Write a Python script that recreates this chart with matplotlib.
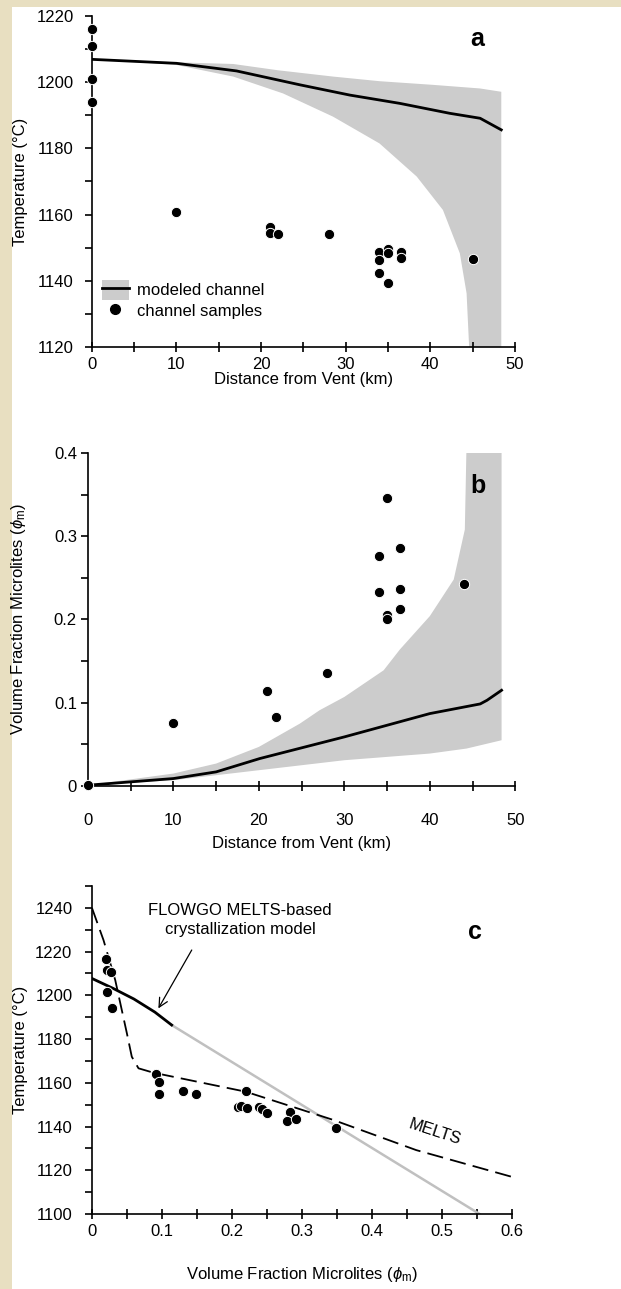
import numpy as np
import matplotlib
matplotlib.use('Agg')
import matplotlib.pyplot as plt
from matplotlib.patches import Patch
from matplotlib.lines import Line2D

plt.rcParams['font.family'] = ['Liberation Sans', 'DejaVu Sans']
plt.rcParams['mathtext.fontset'] = 'custom'
plt.rcParams['mathtext.rm'] = 'Liberation Sans'
plt.rcParams['mathtext.it'] = 'Liberation Sans:italic'

# ---- panel a: temperature vs distance ----
a_dist = [0, 0, 0, 0, 10, 21, 21, 22, 28, 34, 34, 34, 35, 35, 35, 36.5, 36.5, 45]
a_temp = [1216, 1211, 1201, 1194, 1160.7, 1156.4, 1154.5, 1154, 1154,
          1148.6, 1146.4, 1142.4, 1149.5, 1148.3, 1139.4, 1148.8, 1146.8, 1146.5]

a_line_x = [0, 10, 17.1, 24.6, 30.5, 36.4, 42.3, 45.9, 48.4]
a_line_y = [1206.9, 1205.7, 1203.4, 1199.2, 1196.1, 1193.6, 1190.6, 1189.1, 1185.6]

a_upper_x = [0, 10, 16.7, 22, 28.5, 34, 40.3, 45.9, 48.4]
a_upper_y = [1207, 1206, 1205.5, 1203.6, 1201.7, 1200.3, 1199.2, 1198.1, 1197.1]
a_lower_x = [0, 10, 16.7, 22.6, 28.5, 34, 38.4, 41.5, 43.5, 44.3, 44.6]
a_lower_y = [1207, 1205.2, 1201.7, 1196.6, 1189.6, 1181.5, 1171.5, 1161.4, 1148.3, 1136.2, 1120]

# ---- panel b: microlite fraction vs distance ----
b_dist = [0, 10, 21, 22, 28, 34, 34, 35, 35, 35, 36.5, 36.5, 36.5, 44]
b_phi = [0.001, 0.076, 0.1146, 0.0834, 0.136, 0.276, 0.2325, 0.346, 0.2056, 0.2004,
         0.286, 0.237, 0.213, 0.2425]

b_line_x = [0, 10, 15, 20.1, 30, 40, 45.9, 46.7, 48.4]
b_line_y = [0.001, 0.009, 0.017, 0.033, 0.059, 0.087, 0.0986, 0.103, 0.115]

b_upper_x = [0, 10, 15, 20, 24.8, 27.1, 30, 34.6, 36.5, 40, 42.8, 44.1, 44.3, 48.4]
b_upper_y = [0.001, 0.015, 0.027, 0.047, 0.075, 0.091, 0.107, 0.139, 0.164, 0.204,
             0.248, 0.308, 0.41, 0.41]
b_lower_x = [0, 10, 20, 30, 40, 44.3, 48.4]
b_lower_y = [0.001, 0.007, 0.019, 0.031, 0.039, 0.045, 0.055]

# ---- panel c: temperature vs microlite fraction ----
c_phi = [0.0195, 0.022, 0.0276, 0.022, 0.029, 0.091, 0.0965, 0.0956, 0.130, 0.149,
         0.2197, 0.2087, 0.2125, 0.221, 0.239, 0.243, 0.2496, 0.283, 0.279, 0.291, 0.3495]
c_temp = [1216.4, 1211.5, 1210.8, 1201.5, 1194.2, 1163.8, 1160.5, 1154.7, 1156.4, 1154.7,
          1156.4, 1148.8, 1149.5, 1148.3, 1149, 1147.8, 1146.3, 1146.8, 1142.7, 1143.6, 1139.5]

flowgo_x = [0, 0.03, 0.06, 0.09, 0.114]
flowgo_y = [1207.7, 1203.2, 1198.3, 1192.3, 1186.4]
flowgo_ext_x = [0.114, 0.554]
flowgo_ext_y = [1186.4, 1100]

melts_x = [0, 0.0166, 0.0333, 0.05, 0.057, 0.0666, 0.088, 0.22, 0.345, 0.4636, 0.6]
melts_y = [1240, 1225.2, 1207, 1182.6, 1171.9, 1166.6, 1164.6, 1155.9, 1143, 1129.2, 1117]

BAND = '#cccccc'
FS_TICK = 12
FS_LAB = 12

fig = plt.figure(figsize=(6.21, 12.89), dpi=100)
fig.patch.set_facecolor('#e8dfc1')
fig.add_artist(plt.Rectangle((12 / 621, 0), 1, 1 - 7 / 1289, transform=fig.transFigure,
                             facecolor='white', edgecolor='none', zorder=0))


def style_axes(ax, xpad, ypad):
    for s in ['top', 'right']:
        ax.spines[s].set_visible(False)
    ax.spines['left'].set_linewidth(1.2)
    ax.spines['bottom'].set_linewidth(1.2)
    ax.set_facecolor('none')
    ax.tick_params(axis='x', which='both', direction='inout', length=7, width=1.2,
                   labelsize=FS_TICK, pad=xpad)
    ax.tick_params(axis='y', which='both', direction='out', length=5, width=1.2,
                   labelsize=FS_TICK, pad=ypad)


def dots(ax, x, y):
    ax.scatter(x, y, s=55, c='black', edgecolors='white', linewidths=0.7, zorder=5,
               clip_on=False)


# panel a
ax1 = fig.add_axes([0.148, 0.7308, 0.681, 0.2568])
ax1.fill(list(a_upper_x) + [48.4] + list(a_lower_x[::-1]),
         list(a_upper_y) + [1120] + list(a_lower_y[::-1]), color=BAND, lw=0, zorder=1)
ax1.plot(a_line_x, a_line_y, color='black', lw=2, zorder=3)
dots(ax1, a_dist, a_temp)
ax1.set_xlim(0, 50)
ax1.set_ylim(1120, 1220)
ax1.set_xticks(np.arange(0, 51, 10))
ax1.set_xticks(np.arange(0, 51, 5), minor=True)
ax1.set_yticks(np.arange(1120, 1221, 20))
ax1.set_yticks(np.arange(1120, 1221, 10), minor=True)
style_axes(ax1, 4, 8)
ax1.set_xlabel('Distance from Vent (km)', fontsize=FS_LAB)
ax1.xaxis.set_label_coords(0.5, -0.075)
ax1.set_ylabel('Temperature (°C)', fontsize=FS_LAB)
ax1.yaxis.set_label_coords(-0.151, 0.5)
ax1.text(0.912, 0.93, 'a', transform=ax1.transAxes, fontsize=18, fontweight='bold',
         ha='center', va='center')
h_band = (Patch(facecolor=BAND, edgecolor='none'), Line2D([], [], color='black', lw=2))
h_dot = Line2D([], [], marker='o', color='black', lw=0, markersize=7)
ax1.legend([h_band, h_dot], ['modeled channel', 'channel samples'], loc='lower left',
           bbox_to_anchor=(0.0, 0.05), frameon=False, fontsize=FS_LAB, handlelength=1.6,
           handleheight=1.4, handletextpad=0.5, labelspacing=0.1, borderaxespad=0.2)

# panel b
ax2 = fig.add_axes([0.1417, 0.3902, 0.688, 0.2584])
ax2.fill(list(b_upper_x) + list(b_lower_x[::-1]),
         list(b_upper_y) + list(b_lower_y[::-1]), color=BAND, lw=0, zorder=1)
ax2.plot(b_line_x, b_line_y, color='black', lw=2, zorder=3)
dots(ax2, b_dist, b_phi)
ax2.set_xlim(0, 50)
ax2.set_ylim(0, 0.4)
ax2.set_xticks(np.arange(0, 51, 10))
ax2.set_xticks(np.arange(0, 51, 5), minor=True)
ax2.set_yticks([0, 0.1, 0.2, 0.3, 0.4])
ax2.set_yticklabels(['0', '0.1', '0.2', '0.3', '0.4'])
ax2.set_yticks(np.arange(0, 0.41, 0.05), minor=True)
style_axes(ax2, 16, 3)
ax2.set_xlabel('Distance from Vent (km)', fontsize=FS_LAB)
ax2.xaxis.set_label_coords(0.5, -0.15)
ax2.set_ylabel('Volume Fraction Microlites ($\\phi_\\mathrm{m}$)', fontsize=FS_LAB)
ax2.yaxis.set_label_coords(-0.140, 0.5)
ax2.text(0.912, 0.90, 'b', transform=ax2.transAxes, fontsize=18, fontweight='bold',
         ha='center', va='center')

# panel c
ax3 = fig.add_axes([0.148, 0.0582, 0.676, 0.2545])
ax3.plot(flowgo_ext_x, flowgo_ext_y, color='#c0c0c0', lw=1.8, zorder=2)
ax3.plot(flowgo_x, flowgo_y, color='black', lw=2, zorder=3)
ax3.plot(melts_x, melts_y, color='black', lw=1.3, dashes=(9, 4), zorder=3)
dots(ax3, c_phi, c_temp)
ax3.set_xlim(0, 0.6)
ax3.set_ylim(1100, 1250)
ax3.set_xticks(np.arange(0, 0.61, 0.1))
ax3.set_xticklabels(['0', '0.1', '0.2', '0.3', '0.4', '0.5', '0.6'])
ax3.set_xticks(np.arange(0, 0.61, 0.05), minor=True)
ax3.set_yticks(np.arange(1100, 1241, 20))
ax3.set_yticks(np.arange(1100, 1251, 10), minor=True)
style_axes(ax3, 4, 9)
ax3.set_xlabel('Volume Fraction Microlites ($\\phi_\\mathrm{m}$)', fontsize=FS_LAB)
ax3.xaxis.set_label_coords(0.5, -0.155)
ax3.set_ylabel('Temperature (°C)', fontsize=FS_LAB)
ax3.yaxis.set_label_coords(-0.152, 0.5)
ax3.text(0.2116, 1234.4, 'FLOWGO MELTS-based\ncrystallization model', ha='center',
         va='center', fontsize=FS_LAB, linespacing=1.3)
ax3.annotate('', xy=(0.095, 1194), xytext=(0.1427, 1220.7),
             arrowprops=dict(arrowstyle='->', color='black', lw=0.9,
                             shrinkA=0, shrinkB=0, mutation_scale=16))
ax3.text(0.49, 1137.5, 'MELTS', fontsize=FS_LAB, rotation=-18, ha='center', va='center')
ax3.text(0.912, 0.86, 'c', transform=ax3.transAxes, fontsize=18, fontweight='bold',
         ha='center', va='center')

fig.savefig('out.png', dpi=100, facecolor=fig.get_facecolor())
